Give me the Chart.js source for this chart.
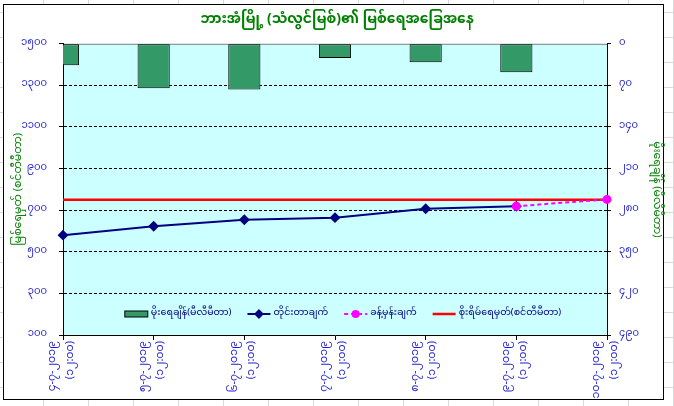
<!DOCTYPE html>
<html>
<head>
<meta charset="utf-8">
<script src="https://cdn.jsdelivr.net/npm/chart.js@4.4.0/dist/chart.umd.min.js"></script>
<style>
  html, body { margin: 0; padding: 0; }
  body {
    width: 674px; height: 406px; overflow: hidden; position: relative;
    background-color: #fff;
    background-image:
      linear-gradient(to right, #d9d9d9 1px, transparent 1px),
      linear-gradient(to bottom, #d9d9d9 1px, transparent 1px);
    background-size: 45px 25px;
    background-position: 43px 12px;
  }
  #frame { position: absolute; left: 3px; top: 4px; width: 659px; height: 394px; border: 1.5px solid #000; background: #fff; }
  #wrap { position: absolute; left: 0; top: 0; width: 674px; height: 406px; }
</style>
</head>
<body>
<div id="frame"></div>
<div id="wrap"><canvas id="waterChart"></canvas></div>
<script>
const MY_FONT = "'Noto Sans Myanmar', 'Padauk', 'Myanmar Text', 'Noto Sans', sans-serif";

// categories: date + reading time
const dates = ['၄-၇-၂၀၁၉', '၅-၇-၂၀၁၉', '၆-၇-၂၀၁၉', '၇-၇-၂၀၁၉', '၈-၇-၂၀၁၉', '၉-၇-၂၀၁၉', '၁၀-၇-၂၀၁၉'];
const times = ['(၁၂:၀၀)', '(၁၂:၀၀)', '(၁၂:၀၀)', '(၁၂:၀၀)', '(၁၂:၀၀)', '(၁၂:၀၀)', '(၁၂:၀၀)'];

// series
const rainfall = [36, 75, 77, 24, 31, 48, null];          // mm, right axis
const measured = [580, 623, 654, 664, 707, 719, null];    // cm
const forecast = [null, null, null, null, null, 719, 752];
const dangerLevel = [750, 750, 750, 750, 750, 750, 750];

// tick values / labels
const leftTickValues = [100, 300, 500, 700, 900, 1100, 1300, 1500];
const leftTickLabels = ['၁၀၀', '၃၀၀', '၅၀၀', '၇၀၀', '၉၀၀', '၁၁၀၀', '၁၃၀၀', '၁၅၀၀'];
const rightTickValues = [0, 70, 140, 210, 280, 350, 420, 490];
const rightTickLabels = ['၀', '၇၀', '၁၄၀', '၂၁၀', '၂၈၀', '၃၅၀', '၄၂၀', '၄၉၀'];

const TICK_BLUE = '#1a1ad0';
const GREEN = '#008000';

// cyan plot area + grey top edge
const plotBg = {
  id: 'plotBg',
  beforeDraw(chart) {
    const { ctx, chartArea: a } = chart;
    ctx.save();
    ctx.fillStyle = '#ccffff';
    ctx.fillRect(a.left, a.top, a.right - a.left, a.bottom - a.top);
    ctx.strokeStyle = '#808080';
    ctx.lineWidth = 1;
    ctx.beginPath();
    ctx.moveTo(a.left, a.top + 0.5);
    ctx.lineTo(a.right, a.top + 0.5);
    ctx.stroke();
    ctx.restore();
  }
};

// legend drawn inside the plot, near the bottom
const innerLegend = {
  id: 'innerLegend',
  afterDatasetsDraw(chart, args, opts) {
    const { ctx, chartArea: a } = chart;
    const sets = chart.data.datasets;
    const sample = 23, gapText = 3, gapItem = 16;
    ctx.save();
    ctx.font = opts.font;
    const widths = sets.map(ds => sample + gapText + ctx.measureText(ds.label).width);
    const total = widths.reduce((s, w) => s + w, 0) + gapItem * (sets.length - 1);
    let x = (a.left + a.right) / 2 + opts.shift - total / 2;
    const y = a.bottom - opts.bottomGap;
    sets.forEach((ds, i) => {
      if (ds.type === 'bar') {
        ctx.fillStyle = ds.backgroundColor;
        ctx.fillRect(x, y - 3, sample, 6);
        ctx.strokeStyle = ds.borderColor;
        ctx.lineWidth = 1;
        ctx.strokeRect(x, y - 3, sample, 6);
      } else {
        ctx.strokeStyle = ds.borderColor;
        ctx.lineWidth = ds.borderWidth;
        ctx.setLineDash(ds.borderDash || []);
        ctx.beginPath();
        ctx.moveTo(x, y);
        ctx.lineTo(x + sample, y);
        ctx.stroke();
        ctx.setLineDash([]);
        if (ds.pointRadius > 0) {
          ctx.fillStyle = ds.pointBackgroundColor;
          ctx.strokeStyle = ds.pointBorderColor;
          Chart.helpers.drawPoint(ctx, { pointStyle: ds.pointStyle, radius: ds.pointRadius - 0.5, rotation: 0, borderWidth: 1 }, x + sample / 2, y);
        }
      }
      ctx.fillStyle = opts.color;
      ctx.textBaseline = 'middle';
      ctx.textAlign = 'left';
      ctx.fillText(ds.label, x + sample + gapText, y);
      x += widths[i] + gapItem;
    });
    ctx.restore();
  }
};

const chart = new Chart(document.getElementById('waterChart'), {
  type: 'line',
  data: {
    labels: dates.map((d, i) => [d, times[i]]),
    datasets: [
      {
        type: 'bar',
        label: 'မိုးရေချိန်(မီလီမီတာ)',
        data: rainfall,
        yAxisID: 'y1',
        backgroundColor: '#339966',
        borderColor: '#000',
        borderWidth: 1,
        borderSkipped: false,
        categoryPercentage: 1,
        barPercentage: 0.355,
        order: 3
      },
      {
        label: 'တိုင်းတာချက်',
        data: measured,
        yAxisID: 'y',
        borderColor: '#000080',
        borderWidth: 2,
        pointStyle: 'rectRot',
        pointRadius: 4,
        pointBackgroundColor: '#000080',
        pointBorderColor: '#000080',
        tension: 0,
        clip: false,
        order: 1
      },
      {
        label: 'ခန့်မှန်းချက်',
        data: forecast,
        yAxisID: 'y',
        borderColor: '#ff00ff',
        borderWidth: 2,
        borderDash: [4, 3],
        pointStyle: 'circle',
        pointRadius: 3.5,
        pointBackgroundColor: '#ff00ff',
        pointBorderColor: '#ff00ff',
        tension: 0,
        clip: false,
        order: 0
      },
      {
        label: 'စိုးရိမ်ရေမှတ်(စင်တီမီတာ)',
        data: dangerLevel,
        yAxisID: 'y',
        borderColor: '#ff0000',
        borderWidth: 2.5,
        pointRadius: 0,
        tension: 0,
        order: 2
      }
    ]
  },
  options: {
    responsive: true,
    maintainAspectRatio: false,
    animation: false,
    layout: { padding: 0 },
    plugins: {
      legend: { display: false },
      tooltip: { enabled: false },
      title: {
        display: true,
        text: 'ဘားအံမြို့ (သံလွင်မြစ်)၏ မြစ်ရေအခြေအနေ',
        color: GREEN,
        font: { family: MY_FONT, size: 14, weight: 'bold' },
        padding: { top: 13, bottom: 14 }
      },
      innerLegend: { font: '9.5px ' + MY_FONT, color: '#000080', shift: 8, bottomGap: 21 }
    },
    scales: {
      x: {
        offset: false,
        grid: { display: true, offset: false, drawOnChartArea: false, drawTicks: true, tickLength: 5, color: '#000' },
        border: { color: '#000', width: 1 },
        ticks: {
          color: TICK_BLUE,
          font: { family: MY_FONT, size: 11, lineHeight: 1.6 },
          minRotation: 90,
          maxRotation: 90,
          autoSkip: false,
          padding: 1,
          labelOffset: -9
        },
        afterFit(s) { s.height = 71; }
      },
      y: {
        position: 'left',
        min: 100,
        max: 1500,
        ticks: {
          stepSize: 200,
          color: TICK_BLUE,
          font: { family: MY_FONT, size: 10 },
          padding: 12,
          callback: v => leftTickLabels[leftTickValues.indexOf(v)]
        },
        grid: {
          color: c => (c.tick && (c.tick.value === 100 || c.tick.value === 1500)) ? 'rgba(0,0,0,0)' : '#000',
          tickColor: '#000',
          tickLength: 4,
          lineWidth: 1
        },
        border: { color: '#000', width: 1, dash: [3, 2] },
        title: {
          display: true,
          text: 'မြစ်ရေမှတ် (စင်တီမီတာ)',
          color: GREEN,
          font: { family: MY_FONT, size: 11 },
          padding: { top: 13, bottom: 0 }
        },
        afterFit(s) { s.width = 63; }
      },
      y1: {
        position: 'right',
        min: 0,
        max: 490,
        reverse: true,
        ticks: {
          stepSize: 70,
          color: TICK_BLUE,
          font: { family: MY_FONT, size: 10 },
          padding: 8,
          callback: v => rightTickLabels[rightTickValues.indexOf(v)]
        },
        grid: { drawOnChartArea: false, color: '#000', tickColor: '#000', tickLength: 4 },
        border: { color: '#000', width: 1 },
        title: {
          display: true,
          text: 'မိုးရေချိန် (မီလီမီတာ)',
          color: GREEN,
          font: { family: MY_FONT, size: 11 },
          padding: { top: 12, bottom: 0 }
        },
        afterFit(s) { s.width = 67; }
      }
    }
  },
  plugins: [plotBg, innerLegend]
});
</script>
</body>
</html>
